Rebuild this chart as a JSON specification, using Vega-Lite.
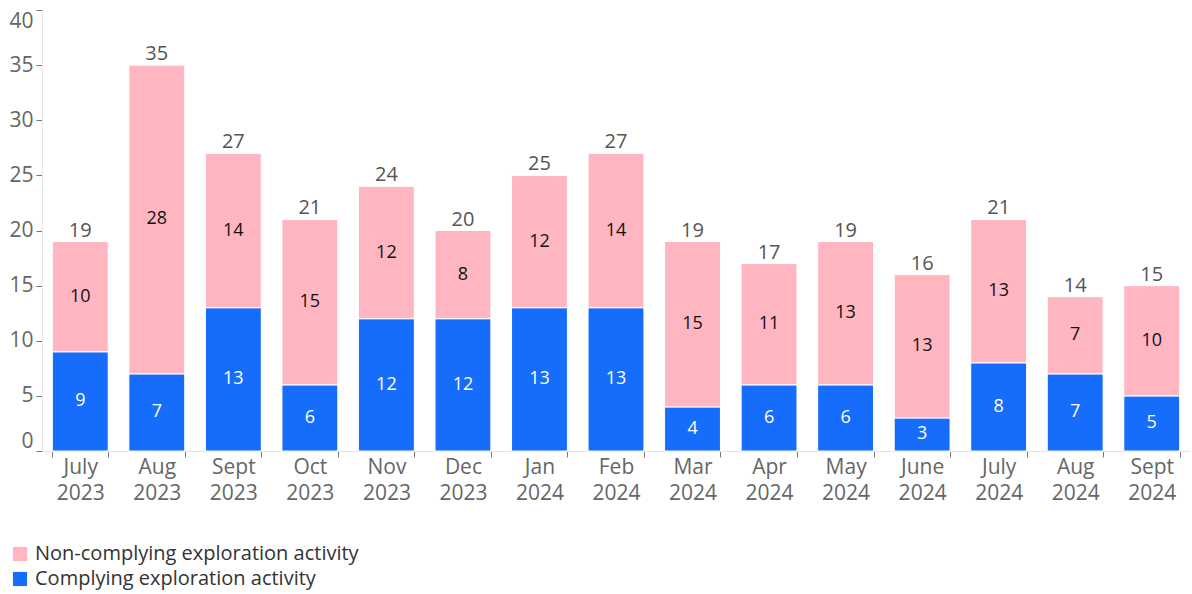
{
  "$schema": "https://vega.github.io/schema/vega-lite/v6.json",
  "width": 1148,
  "height": 441,
  "autosize": {"type": "none"},
  "padding": {"left": 42, "top": 10, "right": 2, "bottom": 143},
  "background": "white",
  "config": {
    "font": "Open Sans",
    "view": {"stroke": null}
  },
  "data": {
    "values": [
      {"month": "July 2023", "type": "Complying exploration activity", "value": 9},
      {"month": "July 2023", "type": "Non-complying exploration activity", "value": 10},
      {"month": "Aug 2023", "type": "Complying exploration activity", "value": 7},
      {"month": "Aug 2023", "type": "Non-complying exploration activity", "value": 28},
      {"month": "Sept 2023", "type": "Complying exploration activity", "value": 13},
      {"month": "Sept 2023", "type": "Non-complying exploration activity", "value": 14},
      {"month": "Oct 2023", "type": "Complying exploration activity", "value": 6},
      {"month": "Oct 2023", "type": "Non-complying exploration activity", "value": 15},
      {"month": "Nov 2023", "type": "Complying exploration activity", "value": 12},
      {"month": "Nov 2023", "type": "Non-complying exploration activity", "value": 12},
      {"month": "Dec 2023", "type": "Complying exploration activity", "value": 12},
      {"month": "Dec 2023", "type": "Non-complying exploration activity", "value": 8},
      {"month": "Jan 2024", "type": "Complying exploration activity", "value": 13},
      {"month": "Jan 2024", "type": "Non-complying exploration activity", "value": 12},
      {"month": "Feb 2024", "type": "Complying exploration activity", "value": 13},
      {"month": "Feb 2024", "type": "Non-complying exploration activity", "value": 14},
      {"month": "Mar 2024", "type": "Complying exploration activity", "value": 4},
      {"month": "Mar 2024", "type": "Non-complying exploration activity", "value": 15},
      {"month": "Apr 2024", "type": "Complying exploration activity", "value": 6},
      {"month": "Apr 2024", "type": "Non-complying exploration activity", "value": 11},
      {"month": "May 2024", "type": "Complying exploration activity", "value": 6},
      {"month": "May 2024", "type": "Non-complying exploration activity", "value": 13},
      {"month": "June 2024", "type": "Complying exploration activity", "value": 3},
      {"month": "June 2024", "type": "Non-complying exploration activity", "value": 13},
      {"month": "July 2024", "type": "Complying exploration activity", "value": 8},
      {"month": "July 2024", "type": "Non-complying exploration activity", "value": 13},
      {"month": "Aug 2024", "type": "Complying exploration activity", "value": 7},
      {"month": "Aug 2024", "type": "Non-complying exploration activity", "value": 7},
      {"month": "Sept 2024", "type": "Complying exploration activity", "value": 5},
      {"month": "Sept 2024", "type": "Non-complying exploration activity", "value": 10}
    ]
  },
  "encoding": {
    "x": {
      "field": "month",
      "type": "nominal",
      "sort": null,
      "scale": {"paddingInner": 0.27, "paddingOuter": 0.135},
      "axis": {
        "title": null,
        "labelAngle": 0,
        "labelExpr": "split(datum.label, ' ')",
        "labelFontSize": 21,
        "labelColor": "#666666",
        "labelLineHeight": 26,
        "labelPadding": -1,
        "labelBaseline": "top",
        "tickBand": "extent",
        "tickColor": "#777777",
        "tickSize": 6,
        "domainColor": "#e4e4e4"
      }
    }
  },
  "layer": [
    {
      "mark": {"type": "bar", "stroke": "white", "strokeWidth": 1},
      "encoding": {
        "y": {
          "field": "value",
          "type": "quantitative",
          "stack": "zero",
          "scale": {"domain": [0, 40]},
          "axis": {
            "title": null,
            "values": [0, 5, 10, 15, 20, 25, 30, 35, 40],
            "labelFlush": true,
            "labelFontSize": 21,
            "labelColor": "#666666",
            "labelPadding": 3,
            "tickColor": "#777777",
            "tickSize": 6,
            "domainColor": "#e4e4e4",
            "grid": false
          }
        },
        "order": {"field": "type", "sort": "ascending"},
        "color": {
          "field": "type",
          "type": "nominal",
          "scale": {
            "domain": ["Non-complying exploration activity", "Complying exploration activity"],
            "range": ["#ffb6c1", "#166dfc"]
          },
          "legend": {
            "title": null,
            "orient": "none",
            "legendX": -32,
            "legendY": 534,
            "symbolType": "square",
            "symbolSize": 200,
            "symbolStrokeWidth": 0,
            "labelFontSize": 20,
            "labelColor": "#333333",
            "labelLimit": 600,
            "rowPadding": 5,
            "labelOffset": 5
          }
        }
      }
    },
    {
      "transform": [
        {"stack": "value", "groupby": ["month"], "sort": [{"field": "type", "order": "ascending"}], "as": ["v0", "v1"]},
        {"calculate": "(datum.v0 + datum.v1) / 2", "as": "mid"}
      ],
      "mark": {"type": "text", "fontSize": 18, "baseline": "middle"},
      "encoding": {
        "y": {"field": "mid", "type": "quantitative"},
        "text": {"field": "value", "type": "quantitative"},
        "color": {
          "condition": {"test": "datum.type === 'Complying exploration activity'", "value": "white"},
          "value": "#111111"
        }
      }
    },
    {
      "transform": [
        {"aggregate": [{"op": "sum", "field": "value", "as": "total"}], "groupby": ["month"]}
      ],
      "mark": {"type": "text", "fontSize": 20, "baseline": "bottom", "dy": -1, "color": "#555555"},
      "encoding": {
        "y": {"field": "total", "type": "quantitative"},
        "text": {"field": "total", "type": "quantitative"}
      }
    }
  ]
}
